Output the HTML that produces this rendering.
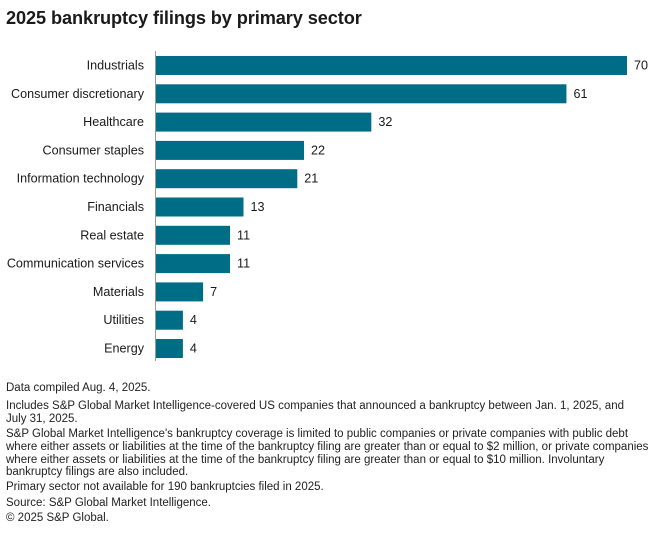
<!DOCTYPE html>
<html><head><meta charset="utf-8"><style>
body{margin:0;width:660px;height:536px;background:#fff;font-family:"Liberation Sans",sans-serif;color:#1a1a1a;overflow:hidden;position:relative}
.t{position:absolute;left:6px;top:8px;font-size:18.2px;font-weight:bold;letter-spacing:-0.1px;margin:0}
.f{position:absolute;left:6px;font-size:11.5px;white-space:nowrap;color:#222;line-height:13px}
svg{position:absolute;left:0;top:0}
</style></head><body>
<h1 class="t">2025 bankruptcy filings by primary sector</h1>
<svg id="chart" width="660" height="370"></svg>
<div class="f" style="top:382px">Data compiled Aug. 4, 2025.</div>
<div class="f" style="top:400px">Includes S&amp;P Global Market Intelligence-covered US companies that announced a bankruptcy between Jan. 1, 2025, and<br>July 31, 2025.</div>
<div class="f" style="top:428px;line-height:12.8px">S&amp;P Global Market Intelligence's bankruptcy coverage is limited to public companies or private companies with public debt<br>where either assets or liabilities at the time of the bankruptcy filing are greater than or equal to $2 million, or private companies<br>where either assets or liabilities at the time of the bankruptcy filing are greater than or equal to $10 million. Involuntary<br>bankruptcy filings are also included.</div>
<div class="f" style="top:481px">Primary sector not available for 190 bankruptcies filed in 2025.</div>
<div class="f" style="top:497px">Source: S&amp;P Global Market Intelligence.</div>
<div class="f" style="top:512px">© 2025 S&amp;P Global.</div>
<script>
const categories=["Industrials","Consumer discretionary","Healthcare","Consumer staples","Information technology","Financials","Real estate","Communication services","Materials","Utilities","Energy"];
const values=[70,61,32,22,21,13,11,11,7,4,4];
const svg=document.getElementById('chart');
const NS='http://www.w3.org/2000/svg';
const x0=156,scale=(627-156)/70,y0=65.5,step=28.3,bh=19;
const xf=v=>x0+v*scale, yf=i=>y0+i*step;
const axis=document.createElementNS(NS,'line');
axis.setAttribute('x1',155.5);axis.setAttribute('x2',155.5);axis.setAttribute('y1',51);axis.setAttribute('y2',361);
axis.setAttribute('stroke','#999');axis.setAttribute('stroke-width','1');


svg.appendChild(axis);
categories.forEach((c,i)=>{
  const cy=yf(i);
  const r=document.createElementNS(NS,'rect');
  r.setAttribute('x',x0);r.setAttribute('y',cy-bh/2);r.setAttribute('width',xf(values[i])-x0);r.setAttribute('height',bh);r.setAttribute('fill','#006d86');
  
  
  svg.appendChild(r);
  const l=document.createElementNS(NS,'text');
  l.setAttribute('x',144);l.setAttribute('y',cy+4);l.setAttribute('text-anchor','end');l.setAttribute('font-size','12.6');l.setAttribute('fill','#1a1a1a');
  l.textContent=c;
  
  
  svg.appendChild(l);
  const v=document.createElementNS(NS,'text');
  v.setAttribute('x',xf(values[i])+7);v.setAttribute('y',cy+4);v.setAttribute('font-size','12.6');v.setAttribute('fill','#1a1a1a');
  v.textContent=values[i];
  
  
  svg.appendChild(v);
});
</script>
</body></html>
